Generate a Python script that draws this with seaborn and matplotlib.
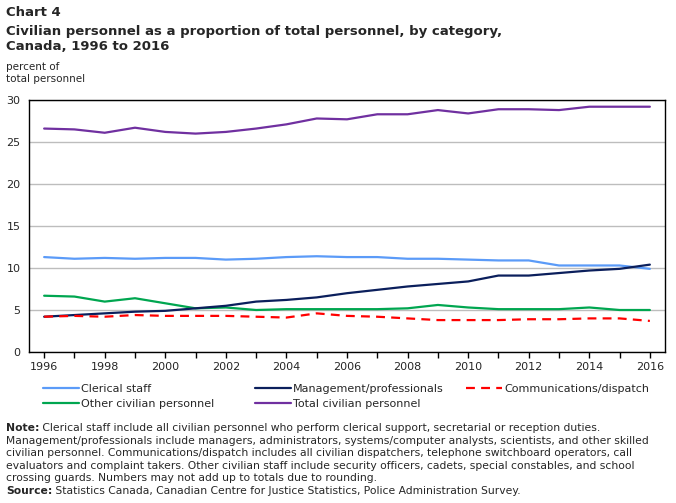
import matplotlib
matplotlib.use("Agg")
import matplotlib.pyplot as plt
import seaborn as sns
import pandas as pd

# Data (percent of total personnel)
years = list(range(1996, 2017))
clerical = [11.3, 11.1, 11.2, 11.1, 11.2, 11.2, 11.0, 11.1, 11.3, 11.4, 11.3,
            11.3, 11.1, 11.1, 11.0, 10.9, 10.9, 10.3, 10.3, 10.3, 9.9]
management = [4.2, 4.4, 4.6, 4.8, 4.9, 5.2, 5.5, 6.0, 6.2, 6.5, 7.0,
              7.4, 7.8, 8.1, 8.4, 9.1, 9.1, 9.4, 9.7, 9.9, 10.4]
communications = [4.2, 4.3, 4.2, 4.4, 4.3, 4.3, 4.3, 4.2, 4.1, 4.6, 4.3,
                  4.2, 4.0, 3.8, 3.8, 3.8, 3.9, 3.9, 4.0, 4.0, 3.7]
other = [6.7, 6.6, 6.0, 6.4, 5.8, 5.2, 5.3, 5.0, 5.1, 5.1, 5.1,
         5.1, 5.2, 5.6, 5.3, 5.1, 5.1, 5.1, 5.3, 5.0, 5.0]
total = [26.6, 26.5, 26.1, 26.7, 26.2, 26.0, 26.2, 26.6, 27.1, 27.8, 27.7,
         28.3, 28.3, 28.8, 28.4, 28.9, 28.9, 28.8, 29.2, 29.2, 29.2]

series = [
    ("Clerical staff", clerical, "#5b9bf8", "-"),
    ("Other civilian personnel", other, "#00a650", "-"),
    ("Management/professionals", management, "#0b1f5c", "-"),
    ("Total civilian personnel", total, "#7030a0", "-"),
    ("Communications/dispatch", communications, "#ff0000", (0, (4, 2.8))),
]

sns.set_style("white")
plt.rcParams['font.family'] = ['DejaVu Sans']

fig = plt.figure(figsize=(6.76, 5.03), dpi=100)
ax = fig.add_axes([29 / 676, 1 - 352 / 503, (665 - 29) / 676, (352 - 100) / 503])

for name, vals, color, ls in series:
    df = pd.DataFrame({"year": years, "value": vals})
    sns.lineplot(data=df, x="year", y="value", ax=ax, color=color,
                 linestyle=ls, linewidth=1.6, label=name, legend=False)

ax.set_xlim(1995.5, 2016.5)
ax.set_ylim(0, 30)
ax.set_yticks(range(0, 31, 5))
ax.set_xticks(years, minor=True)
ax.set_xticks(range(1996, 2017, 2))
ax.set_xlabel("")
ax.set_ylabel("")
ax.yaxis.grid(True, color="#bdbdbd", linewidth=1)
ax.set_axisbelow(True)
for sp in ax.spines.values():
    sp.set_color("black")
    sp.set_linewidth(1)
ax.tick_params(axis="y", length=0, labelsize=8, pad=6)
ax.tick_params(axis="x", which="both", direction="out", length=4, width=1,
               color="black", labelsize=8, bottom=True)

# Titles
fig.text(6 / 676, 1 - 12 / 503, "Chart 4", fontsize=9.5, fontweight="bold", va="center")
fig.text(6 / 676, 1 - 31 / 503,
         "Civilian personnel as a proportion of total personnel, by category,",
         fontsize=9.5, fontweight="bold", va="center")
fig.text(6 / 676, 1 - 47 / 503, "Canada, 1996 to 2016", fontsize=9.5,
         fontweight="bold", va="center")
fig.text(6 / 676, 1 - 67 / 503, "percent of", fontsize=7.5, va="center")
fig.text(6 / 676, 1 - 79 / 503, "total personnel", fontsize=7.5, va="center")

# Legend: three columns placed like the original
handles, labels = ax.get_legend_handles_labels()
cols = [(0, 2, 43), (2, 4, 255), (4, 5, 466)]
for start, stop, xpx in cols:
    fig.legend(handles[start:stop], labels[start:stop], frameon=False,
               fontsize=8, loc="upper left",
               bbox_to_anchor=(xpx / 676, 1 - 384 / 503),
               handlelength=3.2, handletextpad=0.25,
               labelspacing=0.45, borderpad=0, borderaxespad=0)

# Notes
note_lines = [
    ("Note:", " Clerical staff include all civilian personnel who perform clerical support, secretarial or reception duties."),
    ("", "Management/professionals include managers, administrators, systems/computer analysts, scientists, and other skilled"),
    ("", "civilian personnel. Communications/dispatch includes all civilian dispatchers, telephone switchboard operators, call"),
    ("", "evaluators and complaint takers. Other civilian staff include security officers, cadets, special constables, and school"),
    ("", "crossing guards. Numbers may not add up to totals due to rounding."),
    ("Source:", " Statistics Canada, Canadian Centre for Justice Statistics, Police Administration Survey."),
]
y0 = 428
for i, (bold, rest) in enumerate(note_lines):
    y = 1 - (y0 + i * 12.6) / 503
    x = 6 / 676
    if bold:
        t = fig.text(x, y, bold, fontsize=7.75, fontweight="bold", va="center")
        fig.canvas.draw()
        bb = t.get_window_extent()
        x = bb.x1 / fig.bbox.width
    fig.text(x, y, rest, fontsize=7.75, va="center")

fig.savefig("out.png", dpi=100)
